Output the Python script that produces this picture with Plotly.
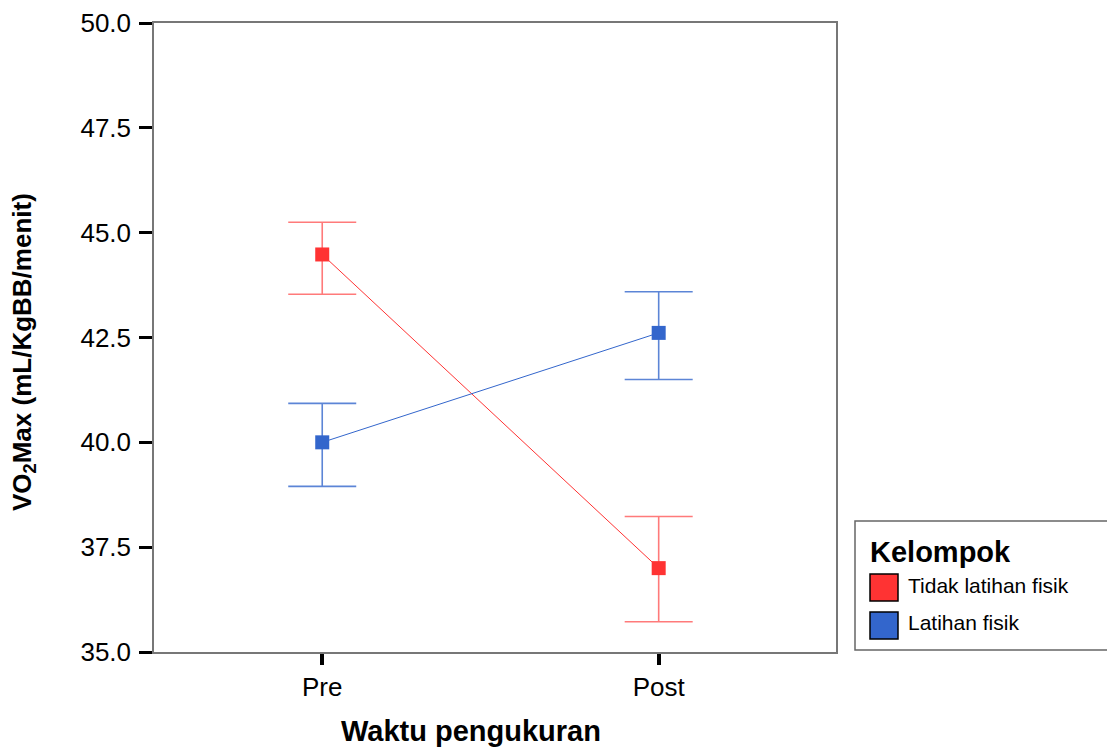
import plotly.graph_objects as go

categories = ["Pre", "Post"]
series_names = ["Tidak latihan fisik", "Latihan fisik"]
red_mean = [44.48, 37.0]
red_upper = [45.25, 38.23]
red_lower = [43.53, 35.72]
blue_mean = [40.0, 42.61]
blue_upper = [40.93, 43.59]
blue_lower = [38.95, 41.50]
y_ticks = [35.0, 37.5, 40.0, 42.5, 45.0, 47.5, 50.0]

colors = ["#FF3333", "#3366CC"]
err_colors = ["rgba(255,51,51,0.65)", "rgba(51,102,204,0.8)"]

OFF = 8  # page body margin
W, H = 1115 - OFF, 752 - OFF
# plot area in page pixel coordinates
L, R, T, B = 154, 836, 23, 652

def px(x):
    return (x - L) / (R - L)

def py(y):
    return (B - y) / (B - T)

fig = go.Figure()
for name, m, up, lo, c, ec in [
    (series_names[0], red_mean, red_upper, red_lower, colors[0], err_colors[0]),
    (series_names[1], blue_mean, blue_upper, blue_lower, colors[1], err_colors[1]),
]:
    fig.add_trace(go.Scatter(
        x=categories, y=m, name=name, mode="lines+markers",
        line=dict(color=c, width=1),
        marker=dict(symbol="square", size=14, color=c),
        error_y=dict(type="data", symmetric=False,
                     array=[u - v for u, v in zip(up, m)],
                     arrayminus=[v - l for v, l in zip(m, lo)],
                     color=ec, thickness=1.6, width=34),
        showlegend=False,
    ))

fig.update_layout(
    width=W, height=H,
    margin=dict(l=L - OFF, r=W - (R - OFF), t=T - OFF, b=H - (B - OFF)),
    paper_bgcolor="white", plot_bgcolor="white",
    font=dict(family="Liberation Sans, Arial, sans-serif", color="black", size=26),
    xaxis=dict(type="category", range=[-0.5, 1.527], showgrid=False,
               showline=True, mirror=True, linecolor="#777777", linewidth=1.5,
               ticks="outside", ticklen=11, tickwidth=4, tickcolor="black",
               tickfont=dict(size=26), zeroline=False, automargin=False),
    yaxis=dict(range=[35, 50], tickvals=y_ticks,
               ticktext=[f"{v:.1f}" for v in y_ticks], showgrid=False,
               showline=True, mirror=True, linecolor="#777777", linewidth=1.5,
               ticks="outside", ticklen=13, tickwidth=3, tickcolor="black",
               ticklabelstandoff=3, automargin=False,
               tickfont=dict(size=26), zeroline=False),
)

# Axis titles
fig.add_annotation(text="<b>Waktu pengukuran</b>", xref="paper", yref="paper",
                   x=px(471), y=py(731), showarrow=False, font=dict(size=29),
                   xanchor="center", yanchor="middle")
fig.add_annotation(text="<b>VO<sub>2</sub>Max (mL/KgBB/menit)</b>", xref="paper", yref="paper",
                   x=px(23), y=py(352), showarrow=False, font=dict(size=26),
                   textangle=-90, xanchor="center", yanchor="middle")

# Legend box
fig.add_shape(type="rect", xref="paper", yref="paper",
              x0=px(855), x1=px(1113), y0=py(650), y1=py(521),
              line=dict(color="#666666", width=1.5), fillcolor="white")
fig.add_annotation(text="<b>Kelompok</b>", xref="paper", yref="paper",
                   x=px(868), y=py(552), showarrow=False, font=dict(size=29),
                   xanchor="left", yanchor="middle")
swatch_tops = [574, 612]
text_centers = [585, 622]
for name, c, y0, yc in zip(series_names, colors, swatch_tops, text_centers):
    fig.add_shape(type="rect", xref="paper", yref="paper",
                  x0=px(870), x1=px(898), y0=py(y0 + 27), y1=py(y0),
                  line=dict(color="black", width=1.5), fillcolor=c)
    fig.add_annotation(text=name, xref="paper", yref="paper",
                       x=px(906), y=py(yc), showarrow=False, font=dict(size=21),
                       xanchor="left", yanchor="middle")

fig.write_html("out.html")
